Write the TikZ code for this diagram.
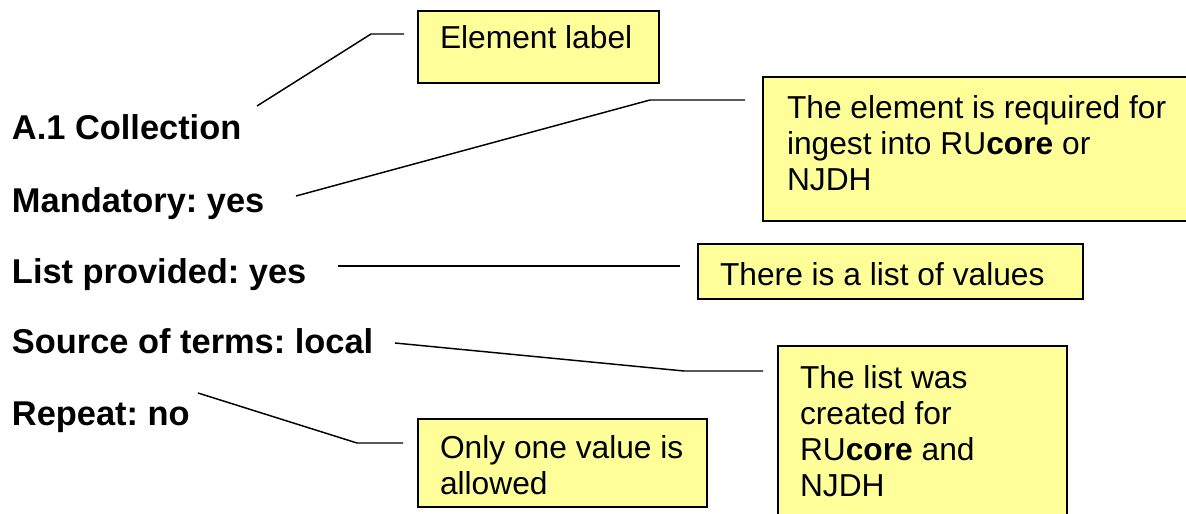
\documentclass[tikz,border=0pt]{standalone}
\usepackage{fontspec}
\setmainfont{Liberation Sans}
\frenchspacing
\definecolor{notefill}{HTML}{FFFF99}
\newcommand{\stackln}[1]{\vtop{\halign{##\hfil\cr#1\crcr}}}
\begin{document}
\begin{tikzpicture}[x=0.75pt,y=-0.75pt,
  every node/.style={font=\fontsize{23.8}{27}\selectfont, inner sep=0pt, outer sep=0pt},
  lbl/.style={anchor=base west, font=\fontsize{25.8}{27}\selectfont\bfseries},
  note/.style={anchor=base west},
  notebox/.style={draw=black, line width=1.5pt, fill=notefill},
  conn/.style={draw=black, line width=1.1pt}]
\useasboundingbox (0,0) rectangle (1186,514);
\begin{scope}
\clip (0,0) rectangle (1186,514);
% boxes
\path[notebox] (418,11) rectangle (659,83);
\path[notebox] (763,77) rectangle (1200,221);
\path[notebox] (698,244) rectangle (1083,299);
\path[notebox] (778,346) rectangle (1067,530);
\path[notebox] (418,419) rectangle (707,507);
\end{scope}
% left labels
\node[lbl] (coll) at (12,139) {A.1 Collection};
\node[lbl] (mand) at (12,212) {Mandatory: yes};
\node[lbl] (list) at (12,283) {List provided: yes};
\node[lbl] (src) at (12,353) {Source of terms: local};
\node[lbl] (rep) at (12,425) {Repeat: no};
% notes
\node[note] (nlabel) at (440,48) {Element label};
\node[note] (nmand) at (787,118) {\stackln{The element is required for\cr ingest into RU\textbf{core} or\cr NJDH}};
\node[note] (nlist) at (720,285) {There is a list of values};
\node[note] (nsrc) at (800,388) {\stackln{The list was\cr created for\cr RU\textbf{core} and\cr NJDH}};
\node[note] (nrep) at (440,458) {\stackln{Only one value is\cr allowed}};
% connector ends
\coordinate (a0) at (257,106); \coordinate (a1) at (371,34); \coordinate (a2) at (404,34);
\coordinate (b0) at (296,196); \coordinate (b1) at (650,100); \coordinate (b2) at (745,100);
\coordinate (c0) at (338,266); \coordinate (c1) at (680,266);
\coordinate (d0) at (395,343); \coordinate (d1) at (684,371); \coordinate (d2) at (763,371);
\coordinate (e0) at (198,393); \coordinate (e1) at (357,443); \coordinate (e2) at (403,443);
\draw[conn] (a0) -- (a1) -- (a2);
\draw[conn] (b0) -- (b1) -- (b2);
\draw[conn] (c0) -- (c1);
\draw[conn] (d0) -- (d1) -- (d2);
\draw[conn] (e0) -- (e1) -- (e2);
\end{tikzpicture}
\end{document}
